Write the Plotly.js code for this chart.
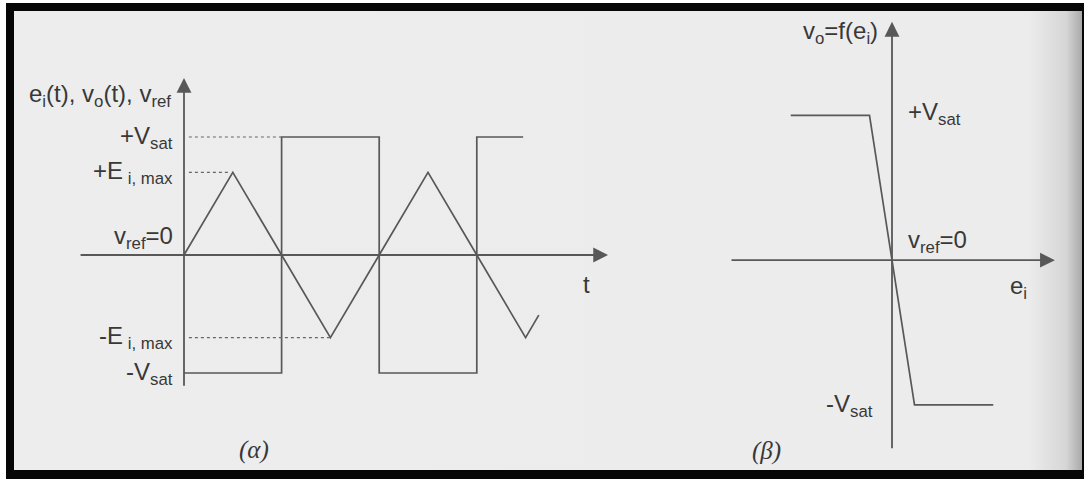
<!DOCTYPE html>
<html>
<head>
<meta charset="utf-8">
<script src="https://cdn.plot.ly/plotly-3.0.1.min.js"></script>
<style>
  html, body { margin: 0; padding: 0; background: #ffffff; width: 1084px; height: 479px; overflow: hidden; }
  #frame { position: absolute; left: 6px; top: 3px; width: 1078px; height: 476px; background: #060606; }
  #chart {
    position: absolute; left: 14px; top: 11px; width: 1068px; height: 459px;
    background: linear-gradient(to right, #ededed 0%, #ececec 95%, #d6d6d6 98.5%, #a9a9a9 100%);
  }
</style>
</head>
<body>
<div id="frame"></div>
<div id="chart"></div>
<script>
// ---- (α) comparator waveforms: input triangle e_i(t) and output square v_o(t) ----
const tTriangle  = [0, 1, 2, 3, 4, 5, 6, 7, 7.27];
const eiTriangle = [0, 0.7, 0, -0.7, 0, 0.7, 0, -0.7, -0.51];

const tSquare  = [0, 2, 2, 4, 4, 6, 6, 6.95];
const voSquare = [-1, -1, 1, 1, -1, -1, 1, 1];

// dotted guide levels from the vertical axis
const guideLevels = [1, 0.7, -0.7];
const guideEnds   = [2, 0.9, 3];

// level labels on the left of the time plot
const leftLevels = [1, 0.7, 0, -0.7, -1];
const leftLabels = ['+V<sub>sat</sub>', '+E<sub> i, max</sub>', 'v<sub>ref</sub>=0', '-E<sub> i, max</sub>', '-V<sub>sat</sub>'];

// ---- (β) transfer characteristic v_o = f(e_i) ----
const eiTransfer = [-4.5, -1, 1, 4.5];
const voTransfer = [1, 1, -1, -1];

// ---- page geometry (chart div sits 14px / 11px inside the page) ----
const OX = 14, OY = 11, W = 1068, H = 459;
const fx = px => (px - OX) / W;
const fy = py => 1 - (py - OY) / H;

// left plot: origin pixel and pixels per unit
const L = { x0: 184, sx: 48.8, y0: 255, sy: 118, left: 30, right: 640, top: 20, bottom: 468 };
// right plot
const R = { x0: 892, sx: 22.5, y0: 257, sy: 147, left: 690, right: 1078, top: 4, bottom: 468 };

const lineColor = '#585858';
const textColor = '#383838';
const sans = 'Liberation Sans, Arial, sans-serif';
const serif = 'Liberation Serif, Times New Roman, serif';
const FS = 24;

const traces = [];
traces.push({ x: tSquare, y: voSquare, xaxis: 'x', yaxis: 'y', mode: 'lines',
  line: { color: lineColor, width: 1.7 }, hoverinfo: 'skip' });
traces.push({ x: tTriangle, y: eiTriangle, xaxis: 'x', yaxis: 'y', mode: 'lines',
  line: { color: lineColor, width: 1.7 }, hoverinfo: 'skip' });
guideLevels.forEach((lv, i) => {
  traces.push({ x: [0.1, guideEnds[i]], y: [lv, lv], xaxis: 'x', yaxis: 'y', mode: 'lines',
    line: { color: '#666666', width: 1.2, dash: 'dot' }, hoverinfo: 'skip' });
});
traces.push({ x: eiTransfer, y: voTransfer, xaxis: 'x2', yaxis: 'y2', mode: 'lines',
  line: { color: lineColor, width: 1.7 }, hoverinfo: 'skip' });

// axis arrows (tail -> tip) in data coordinates
function axisArrow(xr, yr, x0, y0, x1, y1) {
  return { xref: xr, yref: yr, axref: xr, ayref: yr, x: x1, y: y1, ax: x0, ay: y0,
    text: '', showarrow: true, arrowhead: 2, arrowsize: 1.65, arrowwidth: 1.8,
    arrowcolor: lineColor, standoff: 0, startstandoff: 0 };
}
function label(xr, yr, x, y, text, xanchor, xshift, yshift, size, family) {
  return { xref: xr, yref: yr, x: x, y: y, text: text, showarrow: false,
    xanchor: xanchor, yanchor: 'middle', xshift: xshift || 0, yshift: yshift || 0,
    font: { family: family || sans, size: size || FS, color: textColor } };
}

const annotations = [
  axisArrow('x', 'y', -2.15, 0, 8.69, 0),
  axisArrow('x', 'y', 0, -1.12, 0, 1.5),
  axisArrow('x2', 'y2', -7.2, 0, 7.24, 0),
  axisArrow('x2', 'y2', 0, -1.31, 0, 1.646),

  label('x', 'y', 0, 1.35, 'e<sub>i</sub>(t), v<sub>o</sub>(t), v<sub>ref</sub>', 'right', -11, 0),
  label('x', 'y', 8.24, -0.25, 't', 'center', 0, 0),
  label('x', 'y', 1.43, -1.65, '<i>(α)</i>', 'center', 0, 0, 25, serif),

  label('x2', 'y2', 0, 1.57, 'v<sub>o</sub>=f(e<sub>i</sub>)', 'right', -12, 0),
  label('x2', 'y2', 0, 1, '+V<sub>sat</sub>', 'left', 14, 2),
  label('x2', 'y2', 0, 0, 'v<sub>ref</sub>=0', 'left', 14, 19),
  label('x2', 'y2', 0, -1, '-V<sub>sat</sub>', 'right', -17, -1),
  label('x2', 'y2', 5.6, -0.19, 'e<sub>i</sub>', 'center', 0, 0),
  label('x2', 'y2', -5.56, -1.32, '<i>(β)</i>', 'center', 0, 0, 25, serif)
];
leftLevels.forEach((lv, i) => {
  annotations.push(label('x', 'y', 0, lv, leftLabels[i], 'right', -9, lv === 0 ? 18 : 0));
});

const hidden = { visible: false, fixedrange: true };
const layout = {
  width: W, height: H,
  margin: { l: 0, r: 0, t: 0, b: 0, pad: 0 },
  paper_bgcolor: 'rgba(0,0,0,0)', plot_bgcolor: 'rgba(0,0,0,0)',
  showlegend: false,
  xaxis: Object.assign({}, hidden, { anchor: 'y',
    domain: [fx(L.left), fx(L.right)],
    range: [(L.left - L.x0) / L.sx, (L.right - L.x0) / L.sx] }),
  yaxis: Object.assign({}, hidden, { anchor: 'x',
    domain: [fy(L.bottom), fy(L.top)],
    range: [-(L.bottom - L.y0) / L.sy, (L.y0 - L.top) / L.sy] }),
  xaxis2: Object.assign({}, hidden, { anchor: 'y2',
    domain: [fx(R.left), fx(R.right)],
    range: [(R.left - R.x0) / R.sx, (R.right - R.x0) / R.sx] }),
  yaxis2: Object.assign({}, hidden, { anchor: 'x2',
    domain: [fy(R.bottom), fy(R.top)],
    range: [-(R.bottom - R.y0) / R.sy, (R.y0 - R.top) / R.sy] }),
  annotations: annotations
};

Plotly.newPlot('chart', traces, layout, { staticPlot: true, displayModeBar: false });
</script>
</body>
</html>
